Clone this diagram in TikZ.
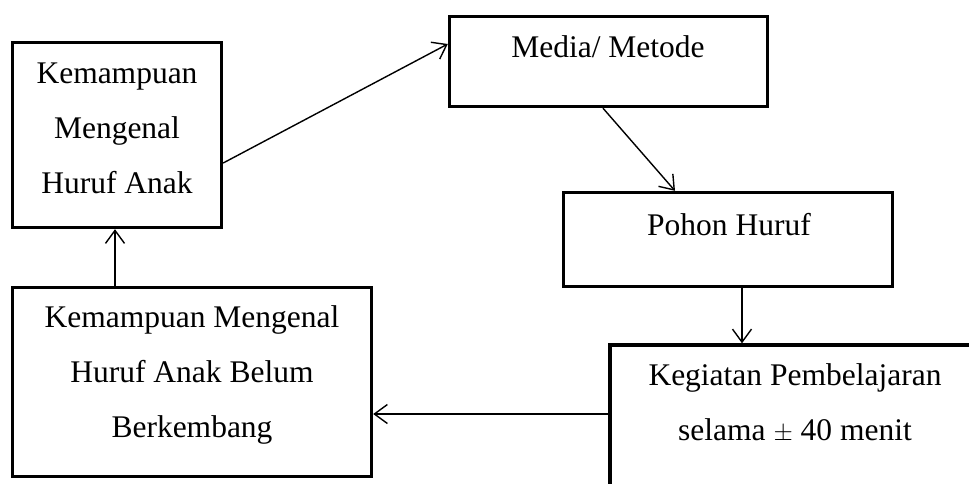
\documentclass[tikz,border=0pt]{standalone}
\usepackage{fontspec}
\setmainfont{Liberation Serif}
\usetikzlibrary{arrows.meta}
\begin{document}
\begin{tikzpicture}[x=1pt,y=-1pt,
  box/.style={draw, line width=3.4pt, rectangle, inner sep=0pt},
  lbl/.style={font=\fontsize{31.5}{55}\selectfont, align=center, anchor=base, inner sep=0pt},
  arr/.style={line width=1.4pt, -{Straight Barb[length=13pt,width=19pt]}}]
\useasboundingbox (0,0) rectangle (969,483);
% boxes
\node[box, minimum width=209pt, minimum height=185pt] (A) at (117,135) {};
\node[box, minimum width=318pt, minimum height=90pt] (B) at (608.5,61.5) {};
\node[box, minimum width=329pt, minimum height=94pt] (C) at (728,239.5) {};
\node[box, minimum width=390pt, minimum height=175pt] (D) at (805,432.5) {};
\node[box, minimum width=359pt, minimum height=189pt] (E) at (192,382) {};
% texts (base anchor = last line)
\node[lbl] (tA) at (117,193) {Kemampuan\\Mengenal\\Huruf Anak};
\node[lbl] (tB) at (608,57) {Media/ Metode};
\node[lbl] (tC) at (729,235) {Pohon Huruf};
\node[lbl] (tD) at (795,440) {Kegiatan Pembelajaran\\selama $\pm$ 40 menit};
\node[lbl] (tE) at (192,437) {Kemampuan Mengenal\\Huruf Anak Belum\\Berkembang};
% connectors
\draw[arr] ([yshift=-28pt]A.east) -- ([yshift=17.5pt]B.west);
\draw[arr] ([xshift=-5.5pt]B.south) -- ([xshift=-53pt]C.north);
\draw[arr] ([xshift=14pt]C.south) -- ([xshift=14pt]C.south |- D.north);
\draw[arr] ([yshift=18.5pt]D.west) -- ([yshift=18.5pt]D.west -| E.east);
\draw[arr] ([xshift=-77pt]E.north) -- ([xshift=-77pt]E.north |- A.south);
\end{tikzpicture}
\end{document}
